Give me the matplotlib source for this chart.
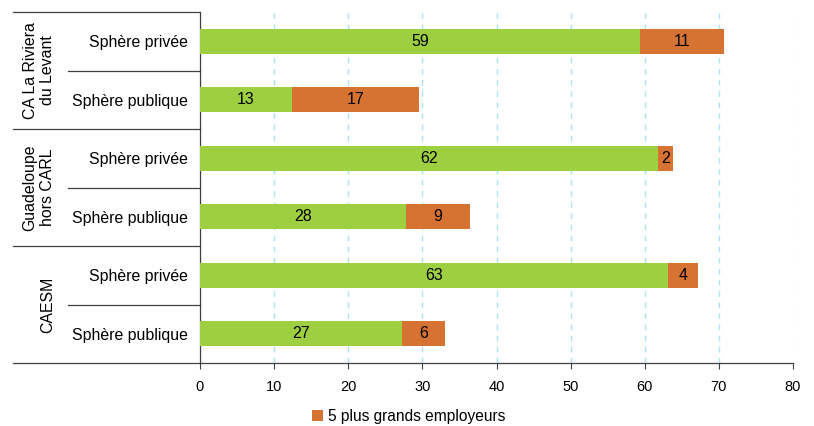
import matplotlib.pyplot as plt
import matplotlib.transforms as mtransforms
import numpy as np

plt.rcParams['font.family'] = ['Liberation Sans', 'DejaVu Sans']

# data, top row first
groups = ['CA La Riviera\ndu Levant', 'Guadeloupe\nhors CARL', 'CAESM']
rows = ['Sphère privée', 'Sphère publique'] * 3
autres = [59.4, 12.4, 61.8, 27.8, 63.2, 27.3]
grands = [11.3, 17.2, 2.0, 8.6, 4.0, 5.8]
autres_lbl = ['59', '13', '62', '28', '63', '27']
grands_lbl = ['11', '17', '2', '9', '4', '6']
xticks = [0, 10, 20, 30, 40, 50, 60, 70, 80]

green = '#9dcf41'
orange = '#d67232'


def main():
    fig = plt.figure(figsize=(8.14, 4.26), dpi=100)
    ax = fig.add_axes([200 / 814, 1 - 363 / 426, 593 / 814, 351 / 426])

    y = np.arange(len(rows))
    h = 0.42
    b1 = ax.barh(y, autres, height=h, color=green, label=' ', zorder=3)
    b2 = ax.barh(y, grands, left=autres, height=h, color=orange,
                 label='5 plus grands employeurs', zorder=3)
    for rect, txt in zip(b1, autres_lbl):
        ax.text(rect.get_x() + rect.get_width() / 2, rect.get_y() + h / 2, txt,
                ha='center', va='center', fontsize=11.5, zorder=4)
    for rect, txt in zip(b2, grands_lbl):
        ax.text(rect.get_x() + rect.get_width() / 2, rect.get_y() + h / 2, txt,
                ha='center', va='center', fontsize=11.5, zorder=4)

    ax.set_ylim(len(rows) - 0.5, -0.5)
    ax.set_xlim(0, 80)
    ax.set_xticks(xticks)
    ax.tick_params(axis='x', length=4, width=0.8, color='#404040', labelsize=10.5, pad=8)
    ax.set_yticks(y)
    ax.set_yticklabels(rows, fontsize=11.4)
    ax.tick_params(axis='y', length=0, pad=9)
    ax.grid(axis='x', color='#a8e4f2', linestyle=(0, (4, 4)), linewidth=1.0, zorder=0)
    ax.get_xgridlines()[-1].set_alpha(0.35)
    for s in ['top', 'right', 'bottom']:
        ax.spines[s].set_visible(False)
    ax.spines['left'].set_color('#404040')
    ax.spines['left'].set_linewidth(0.9)

    # separators in left label area + bottom line
    tr = mtransforms.blended_transform_factory(ax.transAxes, ax.transData)
    x_outer = -187 / 593
    x_inner = -132 / 593
    ax.plot([x_outer, 1], [len(rows) - 0.5] * 2, transform=tr, color='#404040',
            lw=0.9, clip_on=False, zorder=5)
    ax.plot([x_outer, 0], [-0.5] * 2, transform=tr, color='#404040',
            lw=0.9, clip_on=False)
    for k in range(1, len(rows)):
        x0 = x_outer if k % 2 == 0 else x_inner
        ax.plot([x0, 0], [k - 0.5] * 2, transform=tr, color='#404040',
                lw=0.9, clip_on=False)
    for g, name in enumerate(groups):
        ax.text(-145 / 593, 2 * g + 0.5, name, transform=tr, rotation=90,
                ha='right', va='center', fontsize=11.4, linespacing=1.2,
                multialignment='center')

    handles = [b2]
    fig.legend(handles, ['5 plus grands employeurs'], loc='center left',
               bbox_to_anchor=(298 / 814, 1 - 416 / 426), frameon=False,
               fontsize=11.2, handlelength=0.7, handleheight=0.7, handletextpad=0.3)

    fig.savefig('out.png', dpi=100)


if __name__ == '__main__':
    main()
